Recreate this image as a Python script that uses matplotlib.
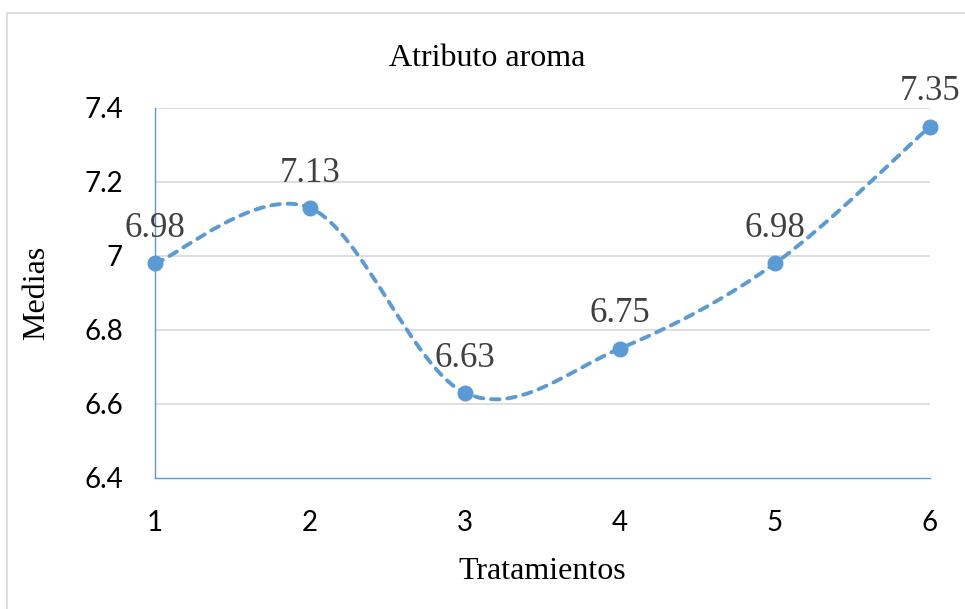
import matplotlib.pyplot as plt
from matplotlib.path import Path
from matplotlib.patches import PathPatch, Rectangle
import numpy as np

# data
tratamientos = [1, 2, 3, 4, 5, 6]
medias = [6.98, 7.13, 6.63, 6.75, 6.98, 7.35]
etiquetas = ['6.98', '7.13', '6.63', '6.75', '6.98', '7.35']
y_ticks = [6.4, 6.6, 6.8, 7.0, 7.2, 7.4]
y_tick_labels = ['6.4', '6.6', '6.8', '7', '7.2', '7.4']

BLUE = '#5B9BD5'
GRID = '#D9D9D9'
SERIF = 'Liberation Serif'
SANS = 'Lato'


def smooth_path(xs, ys):
    """Excel-like smoothed line: cubic Bezier segments with Catmull-Rom tangents."""
    pts = np.column_stack([xs, ys]).astype(float)
    n = len(pts)
    verts = [pts[0]]
    codes = [Path.MOVETO]
    for i in range(n - 1):
        p_prev = pts[i - 1] if i > 0 else pts[i]
        p_next2 = pts[i + 2] if i + 2 < n else pts[i + 1]
        c1 = pts[i] + (pts[i + 1] - p_prev) / 6.0
        c2 = pts[i + 1] - (p_next2 - pts[i]) / 6.0
        verts += [c1, c2, pts[i + 1]]
        codes += [Path.CURVE4] * 3
    return Path(verts, codes)


fig = plt.figure(figsize=(9.65, 6.09), dpi=100)
ax = fig.add_axes([155 / 965, 131 / 609, 775 / 965, 370 / 609])

# outer chart border
fig.patches.append(Rectangle((7 / 965, -0.02), 1.0, 1 - 13 / 609 + 0.02,
                             transform=fig.transFigure, fill=False,
                             edgecolor=GRID, linewidth=1.2))

ax.set_xlim(1, 6)
ax.set_ylim(6.4, 7.4)
ax.set_yticks(y_ticks)
ax.set_yticklabels(y_tick_labels, fontsize=20, family=SANS)
ax.set_xticks(tratamientos)
ax.set_xticklabels([str(t) for t in tratamientos], fontsize=20, family=SANS)
ax.tick_params(length=0)
ax.tick_params(axis='x', pad=23)
ax.tick_params(axis='y', pad=23)

for y in y_ticks[1:]:
    ax.axhline(y, color=GRID, linewidth=1.2, zorder=0)

for side in ['top', 'right']:
    ax.spines[side].set_visible(False)
for side in ['left', 'bottom']:
    ax.spines[side].set_color(BLUE)
    ax.spines[side].set_linewidth(1.0)

patch = PathPatch(smooth_path(tratamientos, medias), facecolor='none',
                  edgecolor=BLUE, linewidth=2.8, linestyle=(0, (2.2, 2.0)),
                  capstyle='round', zorder=3, clip_on=False)
ax.add_patch(patch)
ax.plot(tratamientos, medias, linestyle='none', marker='o', markersize=10.5,
        color=BLUE, zorder=4, clip_on=False)

for x, y, lab in zip(tratamientos, medias, etiquetas):
    ax.annotate(lab, (x, y), xytext=(0, 13), textcoords='offset points',
                ha='center', va='bottom', fontsize=25, family=SERIF,
                color='#404040')

fig.text(487 / 965, 1 - 58 / 609, 'Atributo aroma', fontsize=23, family=SERIF,
         ha='center', va='center')
ax.set_xlabel('Tratamientos', fontsize=23, family=SERIF, labelpad=15)
ax.set_ylabel('Medias', fontsize=23, family=SERIF, labelpad=24)

fig.savefig('out.png', dpi=100)
